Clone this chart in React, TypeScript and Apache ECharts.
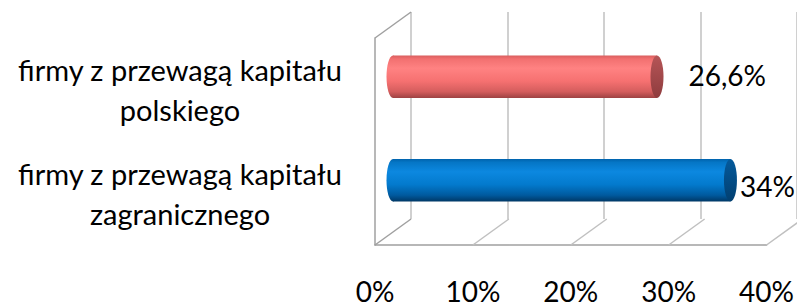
import React, { useEffect, useRef } from "react";
import * as echarts from "echarts";

// ---- data ----
const categories = [
  "firmy z przewagą kapitału\npolskiego",
  "firmy z przewagą kapitału\nzagranicznego",
];
const values = [26.6, 34];
const valueLabels = ["26,6%", "34%"];
const ticks = [0, 10, 20, 30, 40];
const tickLabels = ["0%", "10%", "20%", "30%", "40%"];

// ---- styling / layout constants ----
const W = 797;
const H = 307;
const FONT = "Lato, 'Open Sans', sans-serif";
const FONT_SIZE = 28;
const CAT_FONT_SIZE = 29;
const FRONT = { left: 375, top: 38, width: 397, height: 207 };
const DEPTH = { dx: 36, dy: -26 };
const EDGE_COLOR = "#a0a0a0";
const GRID_COLOR = "#c0c0c0";
const LABEL_SHIFT = [
  [25, -2],
  [3, 6],
];
const BAR_STYLES = [
  {
    body: [
      [0, "#d95e5e"],
      [0.08, "#f27070"],
      [0.3, "#ff8282"],
      [0.6, "#f67171"],
      [0.85, "#d45d5d"],
      [1, "#9e4243"],
    ],
    cap: [
      [0, "#b55557"],
      [1, "#8f3c3e"],
    ],
  },
  {
    body: [
      [0, "#0063ad"],
      [0.08, "#0576c6"],
      [0.3, "#0c88e0"],
      [0.6, "#037acd"],
      [0.85, "#005a9f"],
      [1, "#003866"],
    ],
    cap: [
      [0, "#045a9c"],
      [1, "#023f70"],
    ],
  },
];

const grad = (stops: (number | string)[][]) =>
  new echarts.graphic.LinearGradient(
    0,
    0,
    0,
    1,
    stops.map(([offset, color]) => ({ offset: offset as number, color: color as string }))
  );

export default function App() {
  const ref = useRef<HTMLDivElement>(null);

  useEffect(() => {
    document.body.style.margin = "0";
    if (!ref.current) return;
    const chart = echarts.init(ref.current, null, { renderer: "svg" });

    const mid = {
      left: FRONT.left + DEPTH.dx / 2,
      top: FRONT.top + DEPTH.dy / 2,
      width: FRONT.width,
      height: FRONT.height,
    };
    const back = {
      left: FRONT.left + DEPTH.dx,
      top: FRONT.top + DEPTH.dy,
      width: FRONT.width,
      height: FRONT.height,
    };

    const valueAxisBase = { type: "value", min: 0, max: 40, interval: 10 };

    chart.setOption({
      animation: false,
      backgroundColor: "#ffffff",
      grid: [
        { ...FRONT, containLabel: false },
        { ...mid, containLabel: false },
        { ...back, containLabel: false },
      ],
      xAxis: [
        {
          ...valueAxisBase,
          gridIndex: 0,
          axisLine: { show: true, lineStyle: { color: EDGE_COLOR, width: 1.5 } },
          axisTick: { show: false },
          splitLine: { show: false },
          axisLabel: {
            margin: 32,
            fontSize: FONT_SIZE,
            lineHeight: 28,
            fontFamily: FONT,
            color: "#000",
            formatter: (v: number) => tickLabels[ticks.indexOf(v)] ?? "",
          },
        },
        { ...valueAxisBase, gridIndex: 1, show: false },
        {
          ...valueAxisBase,
          gridIndex: 2,
          axisLine: { show: false },
          axisTick: { show: false },
          axisLabel: { show: false },
          splitLine: { show: true, lineStyle: { color: GRID_COLOR, width: 1.5 } },
        },
      ],
      yAxis: [
        {
          type: "category",
          gridIndex: 0,
          inverse: true,
          data: categories,
          axisLine: { show: true, lineStyle: { color: EDGE_COLOR, width: 1.5 } },
          axisTick: { show: false },
          axisLabel: {
            align: "center",
            margin: 195,
            fontSize: CAT_FONT_SIZE,
            lineHeight: 40,
            fontFamily: FONT,
            color: "#000",
          },
        },
        { type: "category", gridIndex: 1, inverse: true, data: categories, show: false },
        { type: "category", gridIndex: 2, inverse: true, data: categories, show: false },
      ],
      series: [
        {
          type: "custom",
          name: "frame",
          xAxisIndex: 0,
          yAxisIndex: 0,
          silent: true,
          z: 1,
          data: ticks.map((t) => [t, 0]),
          renderItem: (params: any, api: any) => {
            const cs = params.coordSys;
            const x = api.coord([api.value(0), 0])[0];
            const bottom = cs.y + cs.height;
            const children: any[] = [
              {
                type: "line",
                shape: { x1: x, y1: bottom, x2: x + DEPTH.dx, y2: bottom + DEPTH.dy },
                style: { stroke: params.dataIndex === 0 ? EDGE_COLOR : GRID_COLOR, lineWidth: 1.5 },
              },
            ];
            if (params.dataIndex === 0) {
              children.push({
                type: "line",
                shape: { x1: cs.x, y1: cs.y, x2: cs.x + DEPTH.dx, y2: cs.y + DEPTH.dy },
                style: { stroke: EDGE_COLOR, lineWidth: 1.5 },
              });
            }
            return { type: "group", children };
          },
        },
        {
          type: "custom",
          name: "bars",
          xAxisIndex: 1,
          yAxisIndex: 1,
          z: 3,
          data: values.map((v, i) => [v, i]),
          renderItem: (params: any, api: any) => {
            const i = params.dataIndex;
            const v = api.value(0);
            const [x1, cy] = api.coord([v, i]);
            const x0 = api.coord([0, i])[0];
            const band = api.size([0, 1])[1];
            const h = band * 0.41;
            const ry = h / 2;
            const rx = 6.5;
            const st = BAR_STYLES[i];
            const [ldx, ldy] = LABEL_SHIFT[i];
            return {
              type: "group",
              children: [
                {
                  type: "ellipse",
                  shape: { cx: x0, cy, rx, ry },
                  style: { fill: grad(st.body) },
                },
                {
                  type: "rect",
                  shape: { x: x0, y: cy - ry, width: x1 - x0, height: h },
                  style: { fill: grad(st.body) },
                },
                {
                  type: "ellipse",
                  shape: { cx: x1, cy, rx, ry },
                  style: { fill: grad(st.cap) },
                },
                {
                  type: "text",
                  style: {
                    text: valueLabels[i],
                    x: x1 + rx + ldx,
                    y: cy + ldy,
                    align: "left",
                    verticalAlign: "middle",
                    fontSize: FONT_SIZE,
                    fontFamily: FONT,
                    fill: "#000",
                  },
                },
              ],
            };
          },
        },
      ],
    });

    return () => chart.dispose();
  }, []);

  return <div ref={ref} style={{ width: W, height: H }} />;
}
